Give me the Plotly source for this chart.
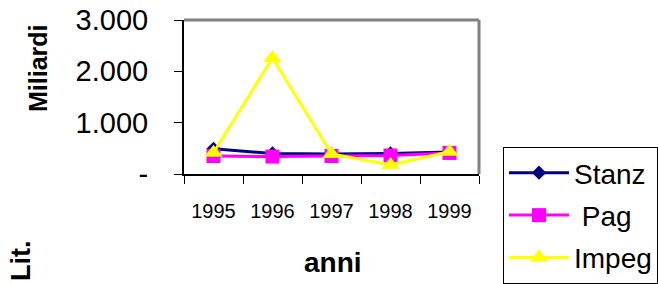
import plotly.graph_objects as go

years = ["1995", "1996", "1997", "1998", "1999"]
stanz = [490, 400, 390, 400, 430]
pag = [350, 340, 350, 360, 410]
impeg = [415, 2260, 390, 175, 435]

y_tickvals = [0, 1000, 2000, 3000]
y_ticktext = ["-", "1.000", "2.000", "3.000"]

W, H = 658, 284
# target plot-area edges in window pixels
PL, PR, PT, PB = 184, 479, 20, 174
L, T = PL, PT
R, B = W - PR, H - PB
PW, PH = W - L - R, H - T - B


def px(x):
    return (x - L) / PW


def py(y):
    return (H - B - y) / PH


fig = go.Figure()
fig.add_trace(go.Scatter(x=years, y=stanz, name="Stanz", mode="lines+markers",
                         line=dict(color="#000080", width=3),
                         marker=dict(symbol="diamond", size=11, color="#000080"),
                         legendgroup="a"))
fig.add_trace(go.Scatter(x=years, y=pag, name=" Pag", mode="lines+markers",
                         line=dict(color="#FF00FF", width=3),
                         marker=dict(symbol="square", size=14, color="#FF00FF"),
                         legendgroup="b"))
fig.add_trace(go.Scatter(x=years, y=impeg, name="Impeg", mode="lines+markers",
                         line=dict(color="#FFFF00", width=3),
                         marker=dict(symbol="triangle-up", size=16, color="#FFFF00"),
                         legendgroup="c"))

fig.update_layout(
    width=W, height=H,
    margin=dict(l=L, r=R, t=T, b=B, autoexpand=False),
    paper_bgcolor="white", plot_bgcolor="white",
    font=dict(family="Liberation Sans, Arial, sans-serif", color="black"),
    showlegend=True,
    legend=dict(xref="container", yref="container", x=503 / W,
                y=1 - 147 / H,
                xanchor="left", yanchor="top",
                bordercolor="black", borderwidth=1,
                font=dict(size=28), tracegroupgap=3, itemwidth=60),
    xaxis=dict(type="category", range=[-0.5, 4.5], showline=True, linecolor="black",
               linewidth=2, ticks="outside", tickson="boundaries", ticklen=8,
               tickcolor="black", tickwidth=1, showgrid=False,
               tickfont=dict(size=20), ticklabelstandoff=18, zeroline=False),
    yaxis=dict(range=[0, 3000], tickvals=y_tickvals, ticktext=y_ticktext,
               showline=True, linecolor="black", linewidth=2, ticks="outside",
               ticklen=8, tickcolor="black", showgrid=False, zeroline=False,
               tickfont=dict(size=29), ticklabelstandoff=20),
    shapes=[
        dict(type="line", xref="paper", yref="paper", x0=0, x1=1, y0=1, y1=1,
             line=dict(color="#808080", width=3)),
        dict(type="line", xref="paper", yref="paper", x0=1, x1=1, y0=0, y1=1,
             line=dict(color="#808080", width=3)),
    ],
    annotations=[
        dict(text="<b>Miliardi</b>", xref="paper", yref="paper",
             x=px(38), y=py(68),
             textangle=-90, showarrow=False, font=dict(size=25),
             xanchor="center", yanchor="middle"),
        dict(text="<b>Lit.</b>", xref="paper", yref="paper",
             x=px(21), y=py(261),
             textangle=-90, showarrow=False, font=dict(size=27),
             xanchor="center", yanchor="middle"),
        dict(text="<b>anni</b>", xref="paper", yref="paper",
             x=px(333), y=py(262),
             showarrow=False, font=dict(size=28),
             xanchor="center", yanchor="middle"),
    ],
)

fig.write_html("out.html", config={"displayModeBar": False},
               post_script="document.body.style.margin='0';document.body.style.overflow='hidden';")
